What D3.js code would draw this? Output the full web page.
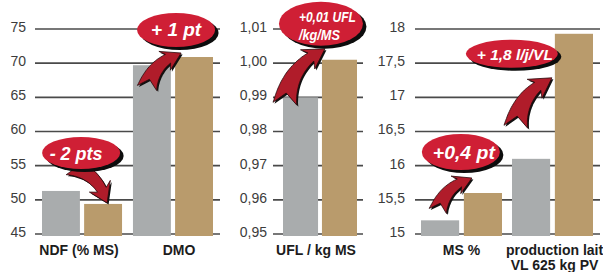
<!DOCTYPE html>
<html>
<head>
<meta charset="utf-8">
<script src="https://cdn.jsdelivr.net/npm/d3@7"></script>
<style>
    body { margin: 0; background: #fff; }
    svg { display: block; }
    .grid line { stroke: #4a4a4a; stroke-width: 1.6; }
    .tick-label { font-family: "Liberation Sans", Arial, sans-serif; font-size: 14px; fill: #3c3c3c; }
    .cat-label { font-family: "Liberation Sans Narrow", "Arial Narrow", sans-serif; font-weight: bold; font-size: 14px; fill: #1c1c1c; }
    .badge-text { font-family: "Liberation Sans Narrow", "Arial Narrow", sans-serif; font-weight: bold; font-style: italic; fill: #fff; }
</style>
</head>
<body>
<div id="chart"></div>
<script>
(function (d3) {
    'use strict';

    // Panel 1 : NDF / DMO
    var digestCats = ['NDF (% MS)', 'DMO'];
    var digestBefore = [51.3, 69.7];
    var digestAfter = [49.4, 70.9];
    var digestTicks = [45, 50, 55, 60, 65, 70, 75];

    // Panel 2 : UFL
    var uflCats = ['UFL / kg MS'];
    var uflBefore = [0.99];
    var uflAfter = [1.001];
    var uflTicks = [0.95, 0.96, 0.97, 0.98, 0.99, 1.00, 1.01];

    // Panel 3 : MS % / production lait
    var milkCats = ['MS %', 'production lait|VL 625 kg PV'];
    var milkBefore = [15.2, 16.1];
    var milkAfter = [15.6, 17.93];
    var milkTicks = [15, 15.5, 16, 16.5, 17, 17.5, 18];

    var badgeLabels = [
        ['- 2 pts'],
        ['+ 1 pt'],
        ['+0,01 UFL', '/kg/MS'],
        ['+0,4 pt'],
        ['+ 1,8 l/j/VL']
    ];

    var width = 603, height = 272;
    var fr = d3.formatLocale({decimal: ',', thousands: ' ', grouping: [3], currency: ['', '€']});

    var svg = d3.select('#chart').append('svg')
        .attr('width', width)
        .attr('height', height)
    ;

    var gridLayer = svg.append('g').attr('class', 'grid');
    var barLayer = svg.append('g');
    var arrowLayer = svg.append('g');
    var badgeLayer = svg.append('g');

    var panels = [
        createPanel({
            cats: digestCats, before: digestBefore, after: digestAfter, ticks: digestTicks,
            fmt: fr.format('d'), lineX: [35, 220], labelX: 26, groups: [42, 213],
            groupPad: 0.12, barPad: 0.1, labelShift: [-3, 6]
        }),
        createPanel({
            cats: uflCats, before: uflBefore, after: uflAfter, ticks: uflTicks,
            fmt: fr.format('.2f'), lineX: [273, 363], labelX: 267, groups: [283, 357],
            groupPad: 0, barPad: 0.1, labelShift: [-4]
        }),
        createPanel({
            cats: milkCats, before: milkBefore, after: milkAfter, ticks: milkTicks,
            fmt: function (v) { return v % 1 === 0 ? fr.format('d')(v) : fr.format('.1f')(v); },
            lineX: [415, 600], labelX: 405, groups: [421, 593],
            groupPad: 0.11, barPad: 0.11, labelShift: [0, 2]
        })
    ];

    // Badge + arrow placement, relative to the top-left corner of the "after" bar.
    var badgeLayout = [
        {panel: 0, cat: 0, c: [-3, -51], r: [39, 16], size: 18, len: 53, tx: -5, base: [7],
            arrow: {s: [-16, -38], e: [23, -1], bend: 0.3, w0: 9, w1: 5, hw: 12, hl: 14}},
        {panel: 0, cat: 1, c: [1, -27], r: [39, 17], size: 18, len: 50, tx: 0, base: [6],
            arrow: {s: [-28, 31], e: [6, -4], bend: 0.28, w0: 10, w1: 5, hw: 11, hl: 14}},
        {panel: 1, cat: 0, c: [-1, -36], r: [42, 22], size: 15, len: [57, 41], left: -22, base: [-2, 16],
            arrow: {s: [-37, 44], e: [3, -11], bend: 0.28, w0: 12, w1: 5, hw: 12, hl: 16}},
        {panel: 2, cat: 0, c: [-3, -41], r: [39, 18], size: 18, len: 62, tx: 3, base: [7],
            arrow: {s: [-26, 18], e: [8, -15], bend: 0.28, w0: 9, w1: 4.5, hw: 10, hl: 13}},
        {panel: 2, cat: 1, c: [-43, 20], r: [46, 14], size: 15, len: 76, tx: 3, base: [6],
            arrow: {s: [-39, 93], e: [-3, 44], bend: 0.28, w0: 12, w1: 5, hw: 12, hl: 16}}
    ];

    badgeLayout.forEach(function (b, i) { drawBadge(b, badgeLabels[i]); });

    function createPanel(o) {
        var y = d3.scaleLinear()
            .domain([o.ticks[0], o.ticks[o.ticks.length - 1]])
            .range([234, 29])
        ;
        var x0 = d3.scaleBand()
            .domain(o.cats)
            .range(o.groups)
            .paddingInner(o.groupPad)
        ;
        var x1 = d3.scaleBand()
            .domain(['avant', 'après'])
            .range([0, x0.bandwidth()])
            .paddingInner(o.barPad)
        ;

        gridLayer.selectAll(null)
            .data(o.ticks)
            .enter()
            .append('line')
            .attr('x1', o.lineX[0])
            .attr('x2', o.lineX[1])
            .attr('y1', function (d) { return y(d); })
            .attr('y2', function (d) { return y(d); })
        ;

        gridLayer.selectAll(null)
            .data(o.ticks)
            .enter()
            .append('text')
            .attr('class', 'tick-label')
            .attr('x', o.labelX)
            .attr('y', function (d) { return y(d) - 2; })
            .attr('dy', '0.35em')
            .attr('text-anchor', 'end')
            .text(o.fmt)
        ;

        var rows = o.cats.map(function (c, i) {
            return {cat: c, values: [
                {key: 'avant', value: o.before[i]},
                {key: 'après', value: o.after[i]}
            ]};
        });

        var groups = barLayer.selectAll(null)
            .data(rows)
            .enter()
            .append('g')
            .attr('transform', function (d) { return translate(x0(d.cat), 0); })
        ;

        groups.selectAll('rect')
            .data(function (d) { return d.values; })
            .enter()
            .append('rect')
            .attr('x', function (d) { return x1(d.key); })
            .attr('width', x1.bandwidth())
            .attr('y', function (d) { return y(d.value); })
            .attr('height', function (d) { return y.range()[0] + 2 - y(d.value); })
            .attr('fill', function (d) { return d.key === 'avant' ? '#a9acad' : '#b99b6c'; })
        ;

        var labelX = function (c, i) { return x0(c) + x0.bandwidth() / 2 + o.labelShift[i]; };

        var labels = svg.selectAll(null)
            .data(o.cats)
            .enter()
            .append('text')
            .attr('class', 'cat-label')
            .attr('text-anchor', 'middle')
            .attr('x', labelX)
            .attr('y', 255)
        ;
        labels.selectAll('tspan')
            .data(function (d, i) {
                return d.split('|').map(function (s) { return {text: s, x: labelX(d, i)}; });
            })
            .enter()
            .append('tspan')
            .attr('x', function (d) { return d.x; })
            .attr('dy', function (d, i) { return i ? 15 : 0; })
            .text(function (d) { return d.text; })
        ;

        return {y: y, x0: x0, x1: x1, o: o};
    }

    function drawBadge(b, lines) {
        var p = panels[b.panel];
        var cat = p.o.cats[b.cat];
        var gx = p.x0(cat) + p.x1('après');
        var gy = p.y(p.o.after[b.cat]);

        var a = b.arrow;
        var d = arrowPath([gx + a.s[0], gy + a.s[1]], [gx + a.e[0], gy + a.e[1]], a);
        arrowLayer.append('path')
            .attr('d', d)
            .attr('transform', translate(1.5, 1.5))
            .attr('fill', '#111')
        ;
        arrowLayer.append('path')
            .attr('d', d)
            .attr('fill', '#b01c2a')
            .attr('stroke', '#2a0a0d')
            .attr('stroke-width', 0.8)
            .attr('stroke-linejoin', 'round')
        ;

        var cx = gx + b.c[0], cy = gy + b.c[1];
        badgeLayer.append('ellipse')
            .attr('cx', cx + 3.5).attr('cy', cy + 3)
            .attr('rx', b.r[0]).attr('ry', b.r[1])
            .attr('fill', '#0d0d0d')
        ;
        badgeLayer.append('ellipse')
            .attr('cx', cx).attr('cy', cy)
            .attr('rx', b.r[0]).attr('ry', b.r[1])
            .attr('fill', '#cf1f35')
        ;

        lines.forEach(function (line, i) {
            var t = badgeLayer.append('text')
                .attr('class', 'badge-text')
                .attr('font-size', b.size)
                .attr('y', cy + b.base[i])
                .attr('lengthAdjust', 'spacingAndGlyphs')
                .text(line)
            ;
            if (b.left !== undefined) {
                t.attr('x', cx + b.left).attr('textLength', b.len[i]);
            } else {
                t.attr('x', cx + b.tx).attr('text-anchor', 'middle').attr('textLength', b.len);
            }
        });
    }

    // Curved fat arrow along a quadratic curve from s (tail) to e (tip).
    function arrowPath(s, e, o) {
        var dx = e[0] - s[0], dy = e[1] - s[1];
        var len = Math.sqrt(dx * dx + dy * dy);
        var nx = dy / len, ny = -dx / len;
        var c = [(s[0] + e[0]) / 2 + nx * o.bend * len, (s[1] + e[1]) / 2 + ny * o.bend * len];

        var q = function (t) {
            var u = 1 - t;
            return [u * u * s[0] + 2 * u * t * c[0] + t * t * e[0],
                    u * u * s[1] + 2 * u * t * c[1] + t * t * e[1]];
        };
        var tangent = function (t) {
            var tx = 2 * (1 - t) * (c[0] - s[0]) + 2 * t * (e[0] - c[0]);
            var ty = 2 * (1 - t) * (c[1] - s[1]) + 2 * t * (e[1] - c[1]);
            var l = Math.sqrt(tx * tx + ty * ty);
            return [tx / l, ty / l];
        };

        var th = 1;
        for (var k = 100; k >= 0; k--) {
            var pt = q(k / 100);
            if (Math.hypot(pt[0] - e[0], pt[1] - e[1]) >= o.hl) { th = k / 100; break; }
        }

        var n = 24, left = [], right = [];
        for (var i = 0; i <= n; i++) {
            var t = th * i / n;
            var p = q(t), tg = tangent(t);
            var w = o.w0 + (o.w1 - o.w0) * Math.pow(i / n, 0.8);
            left.push([p[0] - tg[1] * w, p[1] + tg[0] * w]);
            right.push([p[0] + tg[1] * w, p[1] - tg[0] * w]);
        }
        var b = q(th), bt = tangent(th);
        var back = 4;
        var bl = [b[0] - bt[0] * back - bt[1] * o.hw, b[1] - bt[1] * back + bt[0] * o.hw];
        var br = [b[0] - bt[0] * back + bt[1] * o.hw, b[1] - bt[1] * back - bt[0] * o.hw];
        var st = tangent(0);
        var notch = [s[0] + st[0] * o.w0 * 0.9, s[1] + st[1] * o.w0 * 0.9];

        var pts = left.concat([bl, e, br], right.reverse(), [notch]);
        return 'M' + pts.map(function (pp) { return pp[0].toFixed(1) + ',' + pp[1].toFixed(1); }).join('L') + 'Z';
    }

    function translate(x, y) {
        return 'translate(' + x + ',' + y + ')';
    }

})(d3);
</script>
</body>
</html>
